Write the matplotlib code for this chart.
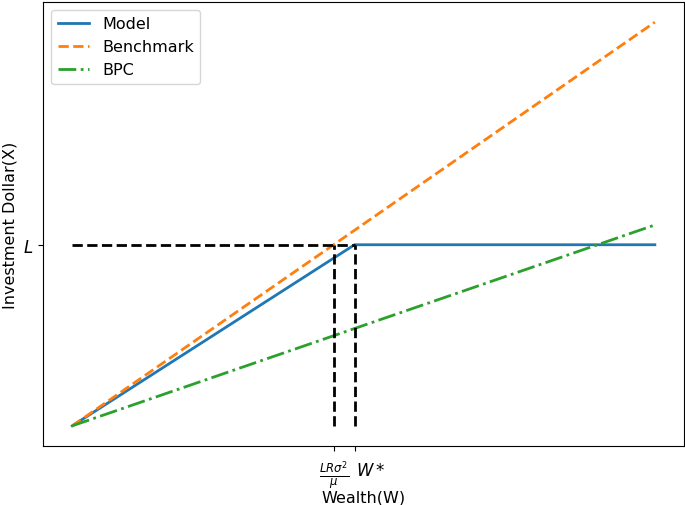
import numpy as np
import matplotlib
matplotlib.use('Agg')
import matplotlib.pyplot as plt
import matplotlib.transforms as mtransforms

plt.rcParams['font.size'] = 11.5
plt.rcParams['lines.linewidth'] = 2.0

# values in units where L = 1 and LR sigma^2 / mu = 1
L = 1.0
w_bench = 1.0          # LR sigma^2 / mu
w_star = 1.08          # W*
w_max = 2.229
bpc_slope = 0.4976

wealth = np.array([0.0, w_bench, w_star, w_max])
model = np.array([0.0, w_bench / w_star * L, L, L])
benchmark = np.array([0.0, w_max])
bpc = np.array([0.0, bpc_slope * w_max])

fig = plt.figure(figsize=(6.85, 5.06), dpi=100)
ax = fig.add_subplot(111)
fig.subplots_adjust(left=0.063, right=0.9985, bottom=0.1166, top=0.994)

ax.plot(wealth, model, '-', label='Model')
ax.plot([0, w_max], benchmark, '--', label='Benchmark')
ax.plot([0, w_max], bpc, '-.', label='BPC')

ax.plot([0, w_star], [L, L], 'k--')
ax.plot([w_bench, w_bench], [0, L], 'k--')
ax.plot([w_star, w_star], [0, L], 'k--')

ax.set_xticks([w_bench, w_star])
ax.set_xticklabels([r'$\frac{LR\sigma^2}{\mu}$', r'$W*$'])
ax.set_yticks([L])
ax.set_yticklabels([r'$L$'])
ax.tick_params(axis='x', labelsize=12, pad=5)
ax.tick_params(axis='y', labelsize=12)
ax.set_xlabel('Wealth(W)', labelpad=0)
ax.set_ylabel('Investment Dollar(X)')
ax.legend(loc='upper left')

# nudge W* label right so it does not sit on the fraction
lbl = ax.get_xticklabels()[1]
lbl.set_transform(lbl.get_transform() + mtransforms.ScaledTranslation(12 / 72, -2 / 72, fig.dpi_scale_trans))

fig.savefig('out.png', dpi=100)
